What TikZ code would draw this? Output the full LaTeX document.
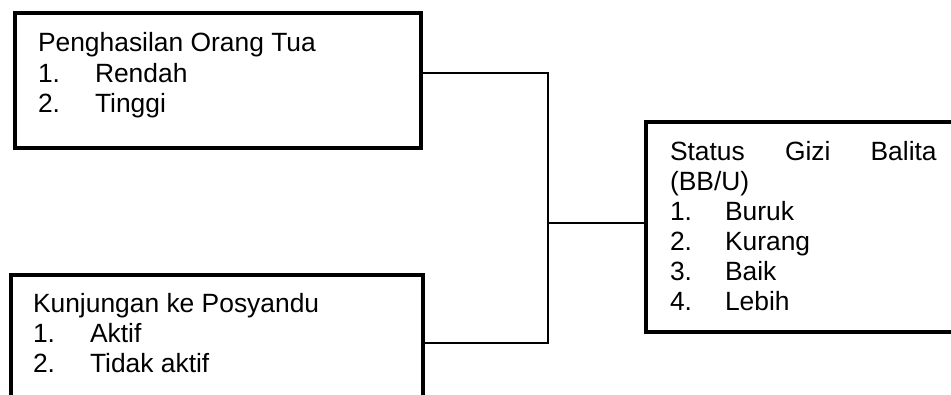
\documentclass[tikz,border=0pt]{standalone}
\usepackage{fontspec}
\setmainfont{Liberation Sans}
\begin{document}
\begin{tikzpicture}[x=0.75pt,y=-0.75pt,
  every node/.style={inner sep=0pt,outer sep=0pt},
  boxnode/.style={draw=black,line width=2.6pt,rectangle,anchor=north west},
  txt/.style={anchor=base west,font=\fontsize{19.8pt}{23pt}\selectfont},
  conn/.style={draw=black,line width=2.2pt,line join=miter}]
\useasboundingbox (0,0) rectangle (951,394);
\clip (0,0) rectangle (951,394);
% boxes
\node[boxnode,minimum width={406*0.75pt},minimum height={135*0.75pt}] (b1) at (15,13) {};
\node[boxnode,minimum width={412*0.75pt},minimum height={160*0.75pt}] (b2) at (11,275) {};
\node[boxnode,minimum width={344*0.75pt},minimum height={210*0.75pt}] (b3) at (646,122) {};
% box 1 text
\node[txt] (t1a) at (38,51) {Penghasilan Orang Tua};
\node[txt] (t1b) at (38,82) {1.};
\node[txt] (t1c) at (95,82) {Rendah};
\node[txt] (t1d) at (38,112) {2.};
\node[txt] (t1e) at (95,112) {Tinggi};
% box 2 text
\node[txt] (t2a) at (33,312) {Kunjungan ke Posyandu};
\node[txt] (t2b) at (33,342) {1.};
\node[txt] (t2c) at (90,342) {Aktif};
\node[txt] (t2d) at (33,372) {2.};
\node[txt] (t2e) at (90,372) {Tidak aktif};
% box 3 text
\node[txt] (t3a) at (670,160) {\makebox[200pt][s]{Status\hfill Gizi\hfill Balita}};
\node[txt] (t3b) at (670,190) {(BB/U)};
\node[txt] (t3c) at (670,220) {1.};
\node[txt] (t3d) at (725,220) {Buruk};
\node[txt] (t3e) at (670,250) {2.};
\node[txt] (t3f) at (725,250) {Kurang};
\node[txt] (t3g) at (670,280) {3.};
\node[txt] (t3h) at (725,280) {Baik};
\node[txt] (t3i) at (670,310) {4.};
\node[txt] (t3j) at (725,310) {Lebih};
% connectors
\coordinate (j1) at (548,73);
\coordinate (j2) at (548,343);
\coordinate (jm) at (548,223);
\draw[conn] (b1.east |- j1) -- (j1) -- (j2) -- (b2.east |- j2);
\draw[conn] (jm) -- (b3.west |- jm);
\end{tikzpicture}
\end{document}
